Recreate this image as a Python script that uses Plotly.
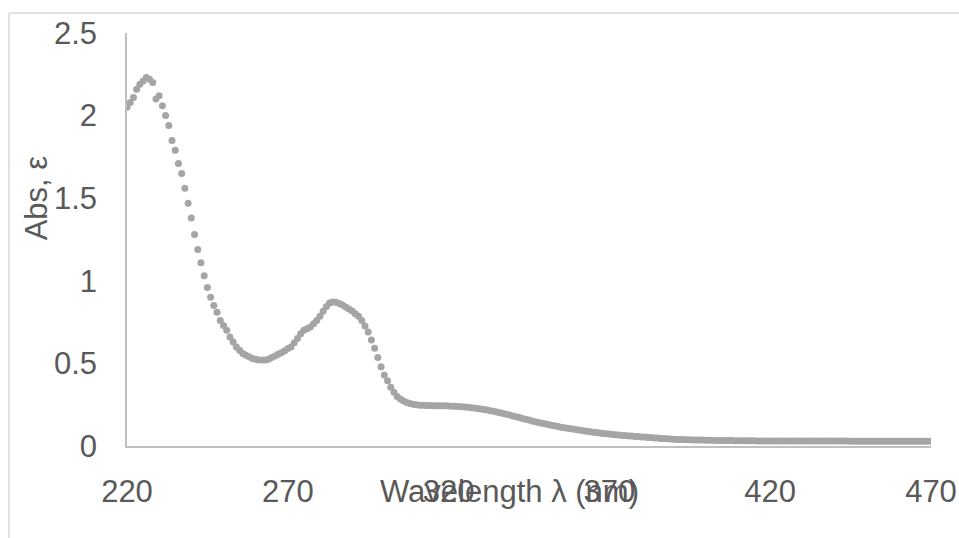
import plotly.graph_objects as go

# Absorption spectrum sampled every 1 nm from 220 to 470 nm
wavelength_start = 220
absorbance = [
    2.05, 2.08, 2.11, 2.16, 2.19, 2.21, 2.23, 2.22, 2.20, 2.10,   # 220-229
    2.12, 2.06, 2.00, 1.94, 1.85, 1.79, 1.71, 1.65, 1.56, 1.47,   # 230-239
    1.38, 1.28, 1.19, 1.11, 1.03, 0.96, 0.90, 0.85, 0.81, 0.76,   # 240-249
    0.73, 0.70, 0.66, 0.63, 0.60, 0.58, 0.56, 0.55, 0.54, 0.53,   # 250-259
    0.525, 0.52, 0.52, 0.52, 0.525, 0.535, 0.545, 0.555, 0.565, 0.575,  # 260-269
    0.59, 0.60, 0.625, 0.65, 0.68, 0.70, 0.71, 0.72, 0.74, 0.76,  # 270-279
    0.785, 0.815, 0.845, 0.865, 0.872, 0.870, 0.862, 0.853, 0.842, 0.830,  # 280-289
    0.817, 0.80, 0.785, 0.76, 0.727, 0.69, 0.642, 0.592, 0.535, 0.48,  # 290-299
    0.43, 0.395, 0.355, 0.325, 0.30, 0.285, 0.272, 0.263, 0.257, 0.252,  # 300-309
    0.249, 0.247, 0.246, 0.245, 0.245, 0.244, 0.244, 0.244, 0.243, 0.243,  # 310-319
    0.242, 0.241, 0.240, 0.239, 0.238, 0.236, 0.234, 0.232, 0.230, 0.227,  # 320-329
    0.224, 0.221, 0.218, 0.214, 0.210, 0.206, 0.202, 0.197, 0.192, 0.187,  # 330-339
    0.182, 0.177, 0.172, 0.167, 0.162, 0.157, 0.152, 0.147, 0.142, 0.138,  # 340-349
    0.134, 0.130, 0.126, 0.122, 0.118, 0.114, 0.110, 0.107, 0.104, 0.101,  # 350-359
    0.098, 0.095, 0.092, 0.089, 0.086, 0.083, 0.081, 0.078, 0.076, 0.074,  # 360-369
    0.072, 0.070, 0.068, 0.066, 0.064, 0.063, 0.061, 0.060, 0.058, 0.057,  # 370-379
    0.055, 0.054, 0.052, 0.051, 0.049, 0.048, 0.046, 0.045, 0.044, 0.042,  # 380-389
    0.041, 0.040, 0.040, 0.039, 0.038, 0.038, 0.037, 0.037, 0.036, 0.036,  # 390-399
    0.035, 0.035, 0.035, 0.034, 0.034, 0.034, 0.033, 0.033, 0.033, 0.032,  # 400-409
    0.032, 0.032, 0.032, 0.032, 0.032, 0.032, 0.031, 0.031, 0.031, 0.031,  # 410-419
    0.031, 0.031, 0.031, 0.031, 0.031, 0.031, 0.031, 0.031, 0.030, 0.030,  # 420-429
    0.030, 0.030, 0.030, 0.030, 0.030, 0.030, 0.030, 0.030, 0.030, 0.030,  # 430-439
    0.030, 0.030, 0.030, 0.030, 0.030, 0.029, 0.029, 0.029, 0.029, 0.029,  # 440-449
    0.029, 0.029, 0.029, 0.029, 0.029, 0.029, 0.029, 0.029, 0.029, 0.029,  # 450-459
    0.028, 0.028, 0.028, 0.028, 0.028, 0.028, 0.028, 0.028, 0.028, 0.028,  # 460-469
    0.028,                                                          # 470
]
wavelength = [wavelength_start + i for i in range(len(absorbance))]

x_ticks = [220, 270, 320, 370, 420, 470]
y_ticks = [0, 0.5, 1, 1.5, 2, 2.5]
y_tick_text = ["0", "0.5", "1", "1.5", "2", "2.5"]

x_title = "Wavelength λ (nm)"
y_title = "Abs, ε"

text_color = "#595959"
axis_color = "#BFBFBF"
border_color = "#D9D9D9"
font_family = "Liberation Sans, Arial, sans-serif"
font_size = 31

fig = go.Figure(
    go.Scatter(
        x=wavelength,
        y=absorbance,
        mode="markers",
        marker=dict(color="#A5A5A5", size=7, line=dict(width=0)),
        hoverinfo="x+y",
    )
)

fig.update_layout(
    width=959,
    height=538,
    margin=dict(l=127, r=28, t=33, b=92),
    paper_bgcolor="white",
    plot_bgcolor="white",
    showlegend=False,
    font=dict(family=font_family, size=font_size, color=text_color),
)

fig.update_xaxes(
    range=[220, 470],
    tickvals=x_ticks,
    showgrid=False,
    zeroline=False,
    showline=True,
    linecolor=axis_color,
    linewidth=1.5,
    ticks="",
    automargin=False,
    ticklabelstandoff=17,
    tickfont=dict(size=font_size, color=text_color),
)

fig.update_yaxes(
    range=[0, 2.5],
    tickvals=y_ticks,
    ticktext=y_tick_text,
    showgrid=False,
    zeroline=False,
    showline=True,
    linecolor=axis_color,
    linewidth=1.5,
    ticks="",
    automargin=False,
    ticklabelstandoff=22,
    tickfont=dict(size=font_size, color=text_color),
)

# Axis titles placed as free text
fig.add_annotation(
    text=x_title, xref="paper", yref="paper", x=0.4757, y=-0.110,
    showarrow=False, xanchor="center", yanchor="middle",
    font=dict(size=font_size, color=text_color, family=font_family),
)
fig.add_annotation(
    text=y_title, xref="paper", yref="paper", x=-0.113, y=0.600,
    showarrow=False, xanchor="center", yanchor="middle", textangle=-90,
    font=dict(size=font_size, color=text_color, family=font_family),
)

# Chart frame (top and left edges)
fig.add_shape(type="line", xref="paper", yref="paper",
              x0=-0.1468, x1=1.2, y0=1.0484, y1=1.0484,
              line=dict(color=border_color, width=1.5))
fig.add_shape(type="line", xref="paper", yref="paper",
              x0=-0.1468, x1=-0.1468, y0=1.0484, y1=-0.4,
              line=dict(color=border_color, width=1.5))

fig.write_html("out.html")
